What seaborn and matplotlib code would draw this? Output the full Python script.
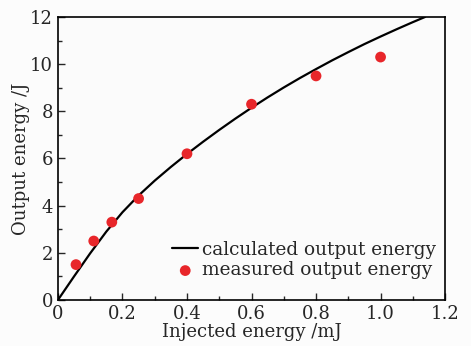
import numpy as np
import pandas as pd
import matplotlib.pyplot as plt
import seaborn as sns
from matplotlib.ticker import MultipleLocator

# curva calculada
calc_x = [0, 0.05, 0.1, 0.15, 0.2, 0.25, 0.3, 0.35, 0.4, 0.45, 0.5, 0.55, 0.6,
          0.65, 0.7, 0.75, 0.8, 0.85, 0.9, 0.95, 1.0, 1.05, 1.1, 1.138]
calc_y = [0, 1.0, 1.98, 2.90, 3.72, 4.43, 5.06, 5.64, 6.19, 6.71, 7.21, 7.69, 8.15,
          8.59, 9.01, 9.41, 9.79, 10.16, 10.51, 10.85, 11.17, 11.48, 11.78, 12.0]

# pontos medidos
meas_x = [0.056, 0.111, 0.167, 0.25, 0.4, 0.6, 0.8, 1.0]
meas_y = [1.5, 2.5, 3.3, 4.3, 6.2, 8.3, 9.5, 10.3]

sns.set_style("ticks")
plt.rcParams['font.family'] = ['DejaVu Serif']

fig = plt.figure(figsize=(4.71, 3.46), dpi=100, facecolor='#fcfcfc')
ax = fig.add_axes([0.123, 0.133, 0.822, 0.818])
ax.set_facecolor('#fbfbfb')

df_calc = pd.DataFrame({'x': calc_x, 'y': calc_y})
df_meas = pd.DataFrame({'x': meas_x, 'y': meas_y})

sns.lineplot(data=df_calc, x='x', y='y', ax=ax, color='black', lw=1.6,
             label='calculated output energy')
sns.scatterplot(data=df_meas, x='x', y='y', ax=ax, color='#e8262a', s=60,
                edgecolor='none', label='measured output energy', zorder=3)

ax.set_xlim(0, 1.2)
ax.set_ylim(0, 12)
ax.set_xticks(np.arange(0, 1.21, 0.2))
ax.set_xticklabels(['0', '0.2', '0.4', '0.6', '0.8', '1.0', '1.2'])
ax.xaxis.set_minor_locator(MultipleLocator(0.1))
ax.yaxis.set_major_locator(MultipleLocator(2))
ax.yaxis.set_minor_locator(MultipleLocator(1))
ax.tick_params(which='both', direction='in', top=False, right=False, labelsize=13)
ax.tick_params(which='major', length=5, width=1)
ax.tick_params(which='minor', length=3, width=1)
for s in ax.spines.values():
    s.set_linewidth(1.2)
    s.set_color('black')

ax.set_xlabel('Injected energy /mJ', fontsize=13, labelpad=0)
ax.set_ylabel('Output energy /J', fontsize=13, labelpad=0)

ax.legend(loc='lower right', bbox_to_anchor=(1.0, 0.04), frameon=False,
          fontsize=13.3, handlelength=1.4, handletextpad=0.2, labelspacing=0.15,
          borderaxespad=0.1)

plt.savefig('out.png', dpi=100, facecolor=fig.get_facecolor())
plt.close()
